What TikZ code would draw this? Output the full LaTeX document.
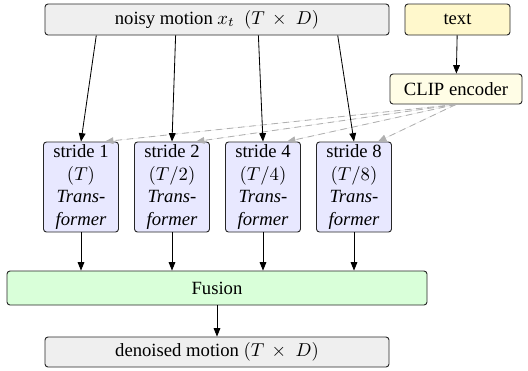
\documentclass[tikz,border=0pt]{standalone}
\usepackage{fontspec}
\setmainfont{Liberation Serif}
\usetikzlibrary{arrows.meta,calc}
\def\px{0.536pt}
\definecolor{boxgray}{HTML}{EFEFEF}
\definecolor{textyel}{HTML}{FFF8CC}
\definecolor{clipyel}{HTML}{FFFDE6}
\definecolor{stridebl}{HTML}{E8E8FF}
\definecolor{fusegr}{HTML}{D9FFD9}
\definecolor{dashgray}{HTML}{B0B0B0}
\tikzset{
  x=\px, y=-\px,
  blk/.style={draw=black!85, rounded corners=1.6pt, line width=0.5pt, inner sep=0pt, align=center, font=\fontsize{10}{12}\selectfont},
  stridebox/.style={blk, fill=stridebl, minimum width=75*\px, minimum height=90*\px},
  arr/.style={-{Triangle[length=4.5pt,width=3.6pt]}, line width=0.45pt},
  darr/.style={-{Triangle[length=4.5pt,width=3.6pt]}, dashed, dash pattern=on 3.5pt off 2.5pt, draw=dashgray, fill=dashgray, line width=0.45pt},
}
\begin{document}
\begin{tikzpicture}
\useasboundingbox (0,0) rectangle (528,370);
\node[blk, fill=boxgray, minimum width=344*\px, minimum height=31*\px] (noisy) at (217,19.5) {noisy motion $x_t$ \ $(T\,\times\;D)$};
\node[blk, fill=textyel, minimum width=105*\px, minimum height=31*\px] (text) at (457.5,19.5) {text};
\node[blk, fill=clipyel, minimum width=132*\px, minimum height=30*\px] (clip) at (456,89) {CLIP encoder};
\node[stridebox] (s1) at (81,187) {stride 1\\$(T)$\\\textit{Trans-}\\\textit{former}};
\node[stridebox] (s2) at (172,187) {stride 2\\$(T/2)$\\\textit{Trans-}\\\textit{former}};
\node[stridebox] (s3) at (263,187) {stride 4\\$(T/4)$\\\textit{Trans-}\\\textit{former}};
\node[stridebox] (s4) at (354,187) {stride 8\\$(T/8)$\\\textit{Trans-}\\\textit{former}};
\node[blk, fill=fusegr, minimum width=420*\px, minimum height=34*\px] (fusion) at (217,288) {Fusion};
\node[blk, fill=boxgray, minimum width=344*\px, minimum height=30*\px] (out) at (217,352) {denoised motion $(T\,\times\;D)$};

\draw[arr] (text) -- (clip);
\foreach \i/\f in {1/0.15,2/0.38,3/0.62,4/0.85}{
  \draw[arr] ($(noisy.south west)!\f!(noisy.south east)$) -- (s\i.north);
  \draw[darr] (clip.south) -- ($(s\i.north)+(24,0)$);
  \draw[arr] (s\i.south) -- (s\i.south |- fusion.north);
}
\draw[arr] (fusion) -- (out);
\end{tikzpicture}
\end{document}
